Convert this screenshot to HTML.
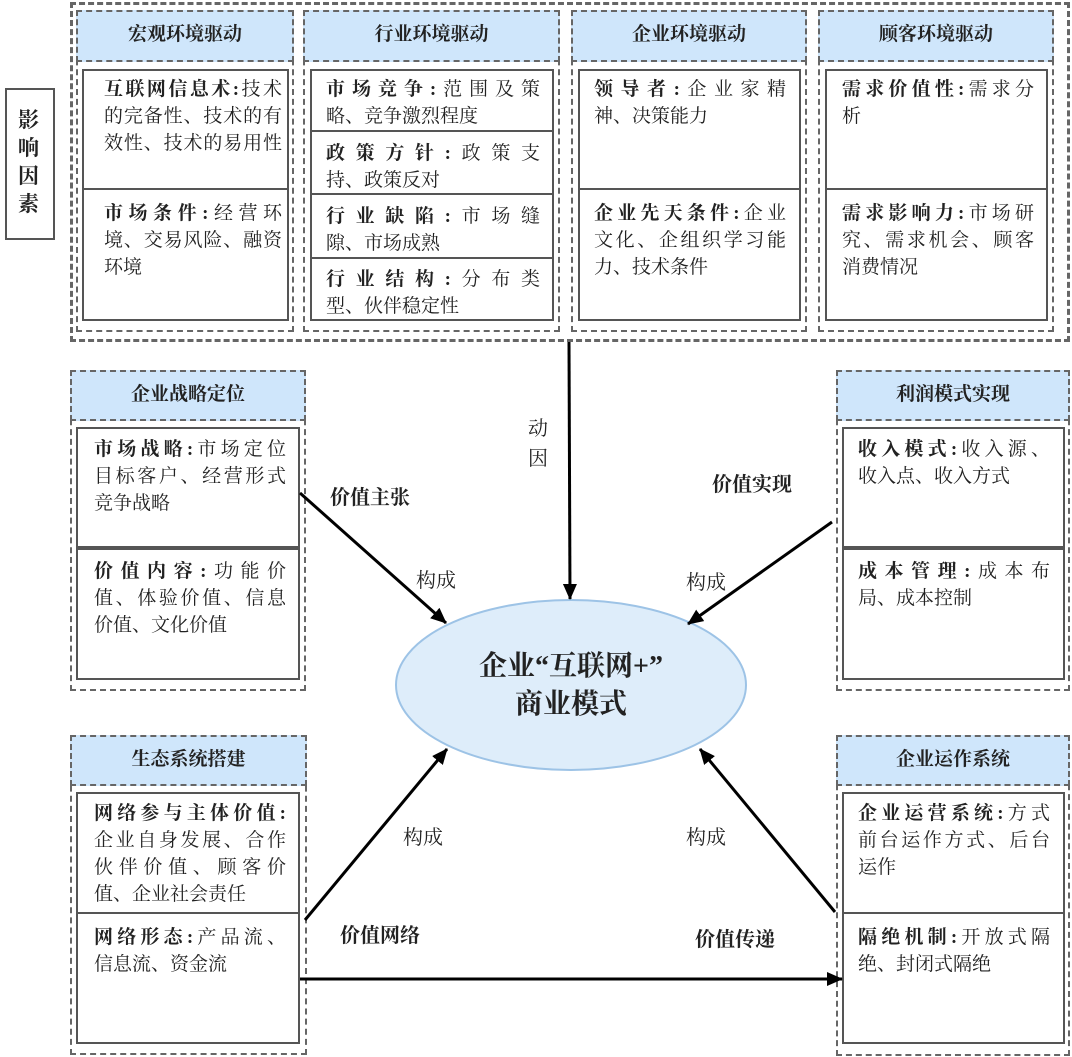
<!DOCTYPE html>
<html><head><meta charset="utf-8">
<style>
body{margin:0;width:1072px;height:1057px;background:#fff;position:relative;overflow:hidden;font-family:"Liberation Serif","Noto Serif CJK SC","Noto Sans CJK SC",serif;color:#222}
.d{position:absolute;border:2px dashed #666;box-sizing:border-box}
.h{position:absolute;background:#cfe6fb;border:2px dashed #666;box-sizing:border-box;font-weight:bold;font-size:19px;text-align:center;line-height:46px}
.s{position:absolute;border:2px solid #555;box-sizing:border-box;background:#fff}
.t{position:absolute;font-size:19px;line-height:27px}
.t div{text-align:justify;text-align-last:justify;white-space:nowrap;height:27px}
.t div.k{text-align:left;text-align-last:left}
.t b{font-weight:bold}
.l{position:absolute;font-size:19px;white-space:nowrap}
</style></head><body>
<div class="d" style="left:70px;top:2px;width:1000px;height:340px;border-width:3px"></div>
<div class="s" style="left:5px;top:88px;width:50px;height:152px"></div>
<div class="l" style="left:18px;top:106px;font-size:21px;font-weight:bold;line-height:28px;white-space:normal;width:24px">影响因素</div>

<div class="d" style="left:76px;top:10px;width:218px;height:322px"></div>
<div class="h" style="left:76px;top:10px;width:218px;height:52px">宏观环境驱动</div>
<div class="s" style="left:82px;top:69px;width:207px;height:252px"></div>
<div class="s" style="left:82px;top:188px;width:207px;height:2px;border-width:1px"></div>
<div class="t" style="left:104px;top:76px;width:178px"><div><b>互联网信息术:</b>技术</div><div>的完备性、技术的有</div><div>效性、技术的易用性</div></div>
<div class="t" style="left:104px;top:200px;width:178px"><div><b>市场条件:</b>经营环</div><div>境、交易风险、融资</div><div class="k">环境</div></div>

<div class="d" style="left:303px;top:10px;width:257px;height:322px"></div>
<div class="h" style="left:303px;top:10px;width:257px;height:52px">行业环境驱动</div>
<div class="s" style="left:310px;top:69px;width:244px;height:252px"></div>
<div class="s" style="left:310px;top:130px;width:244px;height:2px;border-width:1px"></div>
<div class="s" style="left:310px;top:193px;width:244px;height:2px;border-width:1px"></div>
<div class="s" style="left:310px;top:257px;width:244px;height:2px;border-width:1px"></div>
<div class="t" style="left:326px;top:76px;width:214px"><div><b>市场竞争:</b>范围及策</div><div class="k">略、竞争激烈程度</div></div>
<div class="t" style="left:326px;top:140px;width:214px"><div><b>政策方针:</b>政策支</div><div class="k">持、政策反对</div></div>
<div class="t" style="left:326px;top:203px;width:214px"><div><b>行业缺陷:</b>市场缝</div><div class="k">隙、市场成熟</div></div>
<div class="t" style="left:326px;top:266px;width:214px"><div><b>行业结构:</b>分布类</div><div class="k">型、伙伴稳定性</div></div>

<div class="d" style="left:571px;top:10px;width:236px;height:322px"></div>
<div class="h" style="left:571px;top:10px;width:236px;height:52px">企业环境驱动</div>
<div class="s" style="left:578px;top:69px;width:223px;height:252px"></div>
<div class="s" style="left:578px;top:188px;width:223px;height:2px;border-width:1px"></div>
<div class="t" style="left:594px;top:76px;width:192px"><div><b>领导者:</b>企业家精</div><div class="k">神、决策能力</div></div>
<div class="t" style="left:594px;top:200px;width:192px"><div><b>企业先天条件:</b>企业</div><div>文化、企组织学习能</div><div class="k">力、技术条件</div></div>

<div class="d" style="left:818px;top:10px;width:236px;height:322px"></div>
<div class="h" style="left:818px;top:10px;width:236px;height:52px">顾客环境驱动</div>
<div class="s" style="left:825px;top:69px;width:223px;height:252px"></div>
<div class="s" style="left:825px;top:188px;width:223px;height:2px;border-width:1px"></div>
<div class="t" style="left:842px;top:76px;width:192px"><div><b>需求价值性:</b>需求分</div><div class="k">析</div></div>
<div class="t" style="left:842px;top:200px;width:192px"><div><b>需求影响力:</b>市场研</div><div>究、需求机会、顾客</div><div class="k">消费情况</div></div>

<div class="d" style="left:70px;top:370px;width:236px;height:321px"></div>
<div class="h" style="left:70px;top:370px;width:236px;height:51px">企业战略定位</div>
<div class="s" style="left:76px;top:427px;width:224px;height:253px"></div>
<div class="s" style="left:76px;top:546px;width:224px;height:4px"></div>
<div class="t" style="left:94px;top:436px;width:192px"><div><b>市场战略:</b>市场定位</div><div>目标客户、经营形式</div><div class="k">竞争战略</div></div>
<div class="t" style="left:94px;top:558px;width:192px"><div><b>价值内容:</b>功能价</div><div>值、体验价值、信息</div><div class="k">价值、文化价值</div></div>

<div class="d" style="left:836px;top:370px;width:234px;height:321px"></div>
<div class="h" style="left:836px;top:370px;width:234px;height:51px">利润模式实现</div>
<div class="s" style="left:842px;top:427px;width:223px;height:253px"></div>
<div class="s" style="left:842px;top:546px;width:223px;height:4px"></div>
<div class="t" style="left:858px;top:436px;width:192px"><div><b>收入模式:</b>收入源、</div><div class="k">收入点、收入方式</div></div>
<div class="t" style="left:858px;top:558px;width:192px"><div><b>成本管理:</b>成本布</div><div class="k">局、成本控制</div></div>

<div class="d" style="left:70px;top:735px;width:237px;height:320px"></div>
<div class="h" style="left:70px;top:735px;width:237px;height:51px">生态系统搭建</div>
<div class="s" style="left:76px;top:792px;width:224px;height:252px"></div>
<div class="s" style="left:76px;top:912px;width:224px;height:2px;border-width:1px"></div>
<div class="t" style="left:94px;top:800px;width:192px"><div><b>网络参与主体价值:</b></div><div>企业自身发展、合作</div><div>伙伴价值、顾客价</div><div class="k">值、企业社会责任</div></div>
<div class="t" style="left:94px;top:924px;width:192px"><div><b>网络形态:</b>产品流、</div><div class="k">信息流、资金流</div></div>

<div class="d" style="left:836px;top:735px;width:234px;height:321px"></div>
<div class="h" style="left:836px;top:735px;width:234px;height:51px">企业运作系统</div>
<div class="s" style="left:842px;top:792px;width:223px;height:252px"></div>
<div class="s" style="left:842px;top:912px;width:223px;height:2px;border-width:1px"></div>
<div class="t" style="left:858px;top:800px;width:192px"><div><b>企业运营系统:</b>方式</div><div>前台运作方式、后台</div><div class="k">运作</div></div>
<div class="t" style="left:858px;top:924px;width:192px"><div><b>隔绝机制:</b>开放式隔</div><div class="k">绝、封闭式隔绝</div></div>

<svg style="position:absolute;left:0;top:0" width="1072" height="1057">
<defs><marker id="b" markerWidth="16" markerHeight="14" refX="15" refY="7" orient="auto" markerUnits="userSpaceOnUse"><path d="M0,0 L16,7 L0,14 z" fill="#000"/></marker></defs>
<ellipse cx="571" cy="685" rx="175" ry="85" fill="#deedfa" stroke="#9dc3e6" stroke-width="2"/>
<g stroke="#000" stroke-width="3" fill="none">
<line x1="569" y1="342" x2="570" y2="599" marker-end="url(#b)"/>
<line x1="300" y1="493" x2="446" y2="623" marker-end="url(#b)"/>
<line x1="832" y1="522" x2="688" y2="624" marker-end="url(#b)"/>
<line x1="305" y1="920" x2="447" y2="749" marker-end="url(#b)"/>
<line x1="835" y1="912" x2="700" y2="749" marker-end="url(#b)"/>
<line x1="300" y1="979" x2="842" y2="979" marker-end="url(#b)"/>
</g>
</svg>
<div class="l" style="left:528px;top:414px;font-size:20px;line-height:30px;white-space:normal;width:20px">动因</div>
<div class="l" style="left:330px;top:481px;font-weight:bold;font-size:20px">价值主张</div>
<div class="l" style="left:416px;top:564px;font-size:20px">构成</div>
<div class="l" style="left:712px;top:468px;font-weight:bold;font-size:20px">价值实现</div>
<div class="l" style="left:686px;top:566px;font-size:20px">构成</div>
<div class="l" style="left:403px;top:821px;font-size:20px">构成</div>
<div class="l" style="left:686px;top:821px;font-size:20px">构成</div>
<div class="l" style="left:340px;top:919px;font-weight:bold;font-size:20px">价值网络</div>
<div class="l" style="left:695px;top:923px;font-weight:bold;font-size:20px">价值传递</div>
<div class="l" style="left:396px;top:648px;width:350px;text-align:center;font-size:28px;font-weight:bold;line-height:38px;white-space:normal">企业“互联网+”<br>商业模式</div>
</body></html>
